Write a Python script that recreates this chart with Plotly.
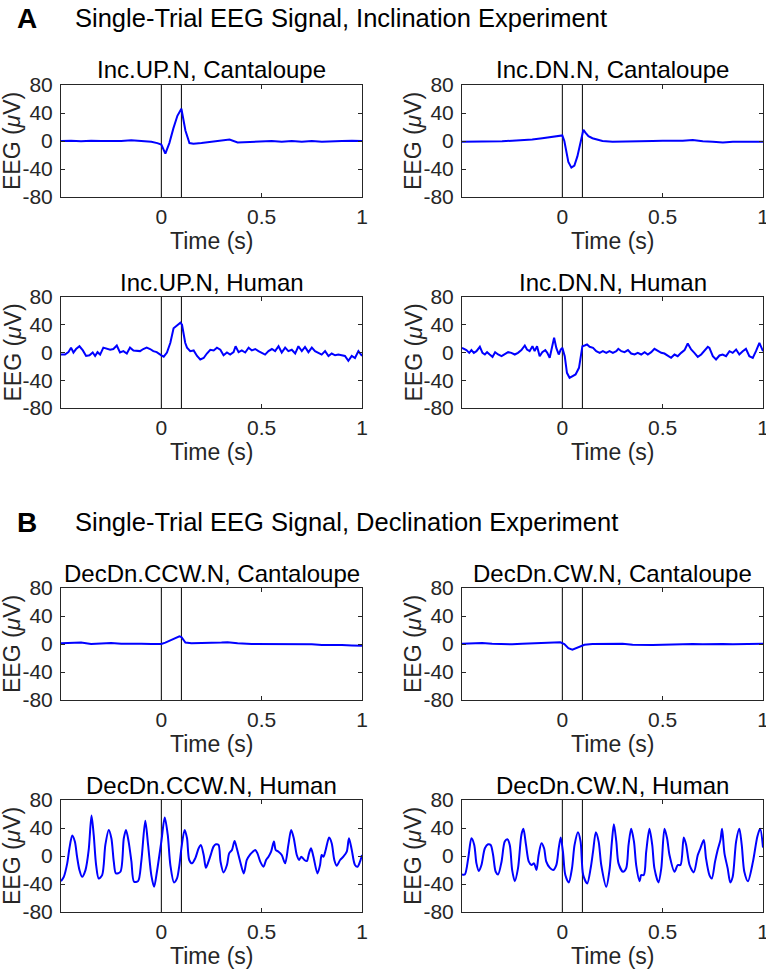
import plotly.graph_objects as go

# ---------------- data ----------------
X_TICK_VALS = [0, 0.5, 1]
X_TICK_TEXT = ["0", "0.5", "1"]
Y_TICK_VALS = [-80, -40, 0, 40, 80]
Y_TICK_TEXT = ["-80", "-40", "0", "40", "80"]
X_RANGE = [-0.5, 1.0]
EVENT_TIMES = [0.0, 0.1]

SECTION_LETTERS = ["A", "B"]
SECTION_TITLES = ["Single-Trial EEG Signal, Inclination Experiment",
                  "Single-Trial EEG Signal, Declination Experiment"]
PANEL_TITLES = ["Inc.UP.N, Cantaloupe", "Inc.DN.N, Cantaloupe",
                "Inc.UP.N, Human", "Inc.DN.N, Human",
                "DecDn.CCW.N, Cantaloupe", "DecDn.CW.N, Cantaloupe",
                "DecDn.CCW.N, Human", "DecDn.CW.N, Human"]
X_LABEL = "Time (s)"
Y_LABEL = "EEG (<i>μ</i>V)"

# Inc.UP.N, Cantaloupe
t_up_cant = [-0.5, -0.45, -0.4, -0.35, -0.3, -0.25, -0.2, -0.15, -0.1, -0.05, -0.02, 0.0,
             0.02, 0.04, 0.06, 0.08, 0.1, 0.12, 0.14, 0.16, 0.2, 0.25, 0.3, 0.34, 0.38,
             0.45, 0.5, 0.55, 0.6, 0.65, 0.7, 0.75, 0.8, 0.85, 0.9, 0.95, 1.0]
v_up_cant = [0, 0.5, -0.5, 0.5, 0, -0.5, 0, 1, 0, -1, -3, -5,
             -18, -3, 18, 36, 46, 15, -3, -4, -3, -1, 1, 2, -2,
             -1, -1, 0, -1, 0, -1, 0, -1, 0, 0, 0.5, 0]

# Inc.DN.N, Cantaloupe
t_dn_cant = [-0.5, -0.45, -0.4, -0.35, -0.3, -0.25, -0.2, -0.15, -0.1, -0.05, -0.01, 0.0,
             0.01, 0.02, 0.03, 0.045, 0.06, 0.075, 0.09, 0.1, 0.105, 0.115, 0.13, 0.15,
             0.2, 0.25, 0.3, 0.35, 0.4, 0.45, 0.5, 0.55, 0.6, 0.65, 0.7, 0.75, 0.8, 0.85,
             0.9, 0.95, 1.0]
v_dn_cant = [-1, -1, -0.5, 0, -0.5, 0.5, 1, 2, 4, 6, 8, 8,
             0, -15, -30, -38, -35, -22, -5, 8, 16, 12, 7, 4,
             0, -1, -1, -1, 0, 0, 0.5, 0, 0.5, 1.5, -0.5, -1, -2, -1,
             -0.5, -1, -1]

# Inc.UP.N, Human
t_up_hum = [-0.5, -0.48, -0.463, -0.45, -0.438, -0.425, -0.408, -0.391, -0.375, -0.358,
            -0.342, -0.33, -0.318, -0.305, -0.289, -0.272, -0.255, -0.239, -0.222, -0.206,
            -0.189, -0.172, -0.156, -0.139, -0.123, -0.106, -0.09, -0.073, -0.056, -0.04,
            -0.023, -0.008, 0.0, 0.012, 0.028, 0.045, 0.061, 0.078, 0.095, 0.103,
            0.119, 0.128, 0.144, 0.161, 0.178, 0.194, 0.211, 0.227, 0.244, 0.261,
            0.277, 0.294, 0.31, 0.327, 0.343, 0.36, 0.37, 0.385, 0.401, 0.418,
            0.435, 0.451, 0.468, 0.484, 0.501, 0.517, 0.534, 0.551, 0.567, 0.584,
            0.6, 0.617, 0.633, 0.65, 0.667, 0.683, 0.7, 0.716, 0.733, 0.75,
            0.766, 0.783, 0.799, 0.816, 0.833, 0.849, 0.866, 0.882, 0.899, 0.915,
            0.932, 0.949, 0.965, 0.982, 1.0]
v_up_hum = [-3, -3, 0.5, 7, 0, 5, 9, 3, -5, -4,
            0, -5, 0.5, -3, 7, 5, 4, 5, 10, 0,
            2, -1.5, 7, 3, 2, 2, 5, 7, 5, 2,
            0.5, -3, -4, -6, 0, 14, 35, 39, 43, 40,
            14, 7, 2, 3, -5, -10, -8, -1.5, 4, 3,
            7, 4, -4, 0, -3, 0.5, 9, 0.5, 3, 0,
            7, 3, 5, 2, 0, -3, 2, 5, 2, 9,
            0, 7, 2, 4, -1.5, 9, 2, 8, 0.5, 7,
            2, 0, -3, 2, -5, -1.5, -4, -3, -4, -5,
            -12, -5, -8, 2, -5]

# Inc.DN.N, Human
t_dn_hum = [-0.5, -0.478, -0.464, -0.453, -0.441, -0.428, -0.411, -0.398, -0.386, -0.375,
            -0.362, -0.348, -0.335, -0.32, -0.303, -0.287, -0.27, -0.254, -0.237, -0.221,
            -0.204, -0.187, -0.176, -0.163, -0.149, -0.138, -0.126, -0.113, -0.1, -0.085,
            -0.075, -0.063, -0.05, -0.041, -0.03, -0.018, -0.008, 0.0, 0.012, 0.023,
            0.036, 0.05, 0.066, 0.083, 0.1, 0.111, 0.123, 0.136, 0.153, 0.169,
            0.186, 0.202, 0.219, 0.235, 0.252, 0.269, 0.279, 0.294, 0.31, 0.327,
            0.343, 0.36, 0.376, 0.393, 0.41, 0.426, 0.443, 0.459, 0.476, 0.493,
            0.509, 0.526, 0.542, 0.559, 0.575, 0.592, 0.609, 0.625, 0.642, 0.658,
            0.675, 0.692, 0.708, 0.725, 0.733, 0.75, 0.766, 0.783, 0.799, 0.816,
            0.833, 0.849, 0.866, 0.882, 0.899, 0.915, 0.932, 0.949, 0.965, 0.982, 1.0]
v_dn_hum = [6.7, 3.4, -0.5, 3.4, -0.5, 1.9, 8.2, -0.5, -2.9, 0.5,
            -2.9, -6.3, 0.5, -2.9, -5.3, -2.9, 0.5, -0.5, -2.9, -0.5,
            3.4, 10.1, 4.3, 1.9, 9.1, 1.9, 9.1, -5.3, 0.5, 3.4,
            -0.5, -7.7, 11.5, 21.2, 6.7, -2.9, 4.3, 6.7, -5.3, -29.3,
            -36.5, -34.1, -31.7, -22.1, 9.1, 10.1, 11.5, 8.2, 6.7, 1.9,
            -0.5, 1.9, -0.5, 1.9, -0.5, 1.9, 5.3, 1.9, 0.5, 3.4,
            -1.5, -2.9, -0.5, -2.9, 0.5, -2.9, 0.5, 5.3, 1.9, -0.5,
            -1.5, -5.3, -7.7, -2.9, -5.3, -0.5, 3.4, 13.0, 4.3, -0.5,
            -6.3, -2.9, 1.9, 8.2, 6.7, -5.3, -10.1, -4.3, -2.9, -5.3,
            1.9, -0.5, 4.3, -2.9, 1.9, 5.3, -5.3, -7.7, 1.9, 13.9, 1.9]

# DecDn.CCW.N, Cantaloupe
t_ccw_cant = [-0.5, -0.45, -0.4, -0.35, -0.3, -0.25, -0.2, -0.15, -0.1, -0.05, -0.02, 0.0,
              0.02, 0.05, 0.08, 0.09, 0.1, 0.11, 0.12, 0.15, 0.2, 0.25, 0.3, 0.33, 0.38,
              0.45, 0.5, 0.55, 0.6, 0.65, 0.7, 0.75, 0.8, 0.85, 0.9, 0.95, 1.0]
v_ccw_cant = [1, 1, 2, 0, 0.5, 1.5, 0.5, 1, 0.5, 0, 0, 0,
              2, 6, 9, 11, 10, 5, 2, 1, 1, 1.5, 2, 2.5, 1,
              0, 0, -0.5, 0, -0.5, -1, -0.5, -1.5, -1, -1.5, -2, -2.5]

# DecDn.CW.N, Cantaloupe
t_cw_cant = [-0.5, -0.45, -0.4, -0.35, -0.3, -0.25, -0.2, -0.15, -0.1, -0.05, -0.01, 0.01,
             0.03, 0.05, 0.07, 0.09, 0.11, 0.15, 0.2, 0.25, 0.3, 0.35, 0.4, 0.45, 0.5,
             0.55, 0.6, 0.65, 0.7, 0.75, 0.8, 0.85, 0.9, 0.95, 1.0]
v_cw_cant = [0.5, 1, 1.5, 0.5, 0, -0.5, 0.5, 1, 1.5, 2, 2.5, 0,
             -6, -8, -6, -3, -1, 0, 0.5, 1, 0.5, -1, -1.5, -1.5, -1,
             -0.5, -0.5, 0, -0.5, 0, 0, -0.5, 0, 0, 0.5]

# DecDn.CCW.N, Human
t_ccw_hum = [-0.5, -0.486, -0.469, -0.458, -0.444, -0.431, -0.42, -0.408, -0.395, -0.378,
             -0.362, -0.348, -0.337, -0.325, -0.312, -0.295, -0.279, -0.262, -0.249, -0.237,
             -0.226, -0.204, -0.187, -0.176, -0.163, -0.149, -0.136, -0.116, -0.1, -0.08,
             -0.066, -0.05, -0.036, -0.022, 0.0, 0.017, 0.032, 0.045, 0.063, 0.078,
             0.09, 0.1, 0.116, 0.128, 0.139, 0.153, 0.169, 0.186, 0.197, 0.211,
             0.222, 0.235, 0.247, 0.26, 0.272, 0.285, 0.295, 0.31, 0.327, 0.338,
             0.352, 0.365, 0.376, 0.393, 0.411, 0.426, 0.443, 0.456, 0.468, 0.479,
             0.493, 0.509, 0.522, 0.534, 0.547, 0.561, 0.57, 0.584, 0.6, 0.617,
             0.633, 0.647, 0.66, 0.675, 0.687, 0.697, 0.713, 0.725, 0.736, 0.746,
             0.758, 0.778, 0.791, 0.799, 0.808, 0.819, 0.836, 0.849, 0.862, 0.874,
             0.891, 0.907, 0.924, 0.935, 0.949, 0.965, 0.978, 0.99, 1.0]
v_ccw_hum = [-35.9, -29.7, -10.5, 11.0, 29.2, 20.6, -1.0, -20.1, -29.7, -20.1,
             8.6, 57.9, 30.1, -12.9, -32.1, -27.3, 15.8, 37.3, 25.4, -8.1,
             -24.9, -22.5, 25.4, 37.3, 20.6, -8.1, -36.8, -35.9, -8.1, 50.2,
             15.8, -27.3, -44.0, -22.5, 20.6, 55.0, 30.1, -12.9, -37.8, -32.1,
             -12.9, 11.0, 37.3, 25.4, -5.7, -10.5, -3.3, 11.0, 15.8, 1.4,
             -16.7, -8.1, 2.4, 13.4, 16.7, 15.8, -8.1, -23.4, -12.9, 3.8,
             8.6, 21.5, 11.0, -8.1, -24.9, -5.7, 2.4, 6.2, 8.6, 3.8,
             -8.1, -15.3, -5.7, -1.0, 6.2, 20.6, 8.6, 6.2, 1.4, -10.5,
             15.8, 37.3, 25.4, 1.4, -5.7, -1.0, -5.7, -7.2, 3.8, 11.0,
             -1.0, -24.9, -12.9, 1.4, -1.0, 8.6, 26.3, 18.2, -5.7, -13.9,
             -5.7, -1.0, 6.2, 25.4, 8.6, -12.9, -15.3, -8.1, 1.4]

# DecDn.CW.N, Human
t_cw_hum = [-0.5, -0.486, -0.469, -0.453, -0.439, -0.428, -0.416, -0.403, -0.386, -0.37,
            -0.357, -0.345, -0.332, -0.32, -0.303, -0.287, -0.274, -0.262, -0.25, -0.237,
            -0.221, -0.204, -0.194, -0.181, -0.167, -0.154, -0.141, -0.129, -0.118, -0.104,
            -0.091, -0.08, -0.063, -0.046, -0.03, -0.018, -0.008, 0.003, 0.015, 0.032,
            0.048, 0.061, 0.078, 0.091, 0.104, 0.124, 0.141, 0.153, 0.167, 0.181,
            0.194, 0.219, 0.235, 0.247, 0.257, 0.269, 0.28, 0.302, 0.318, 0.33,
            0.343, 0.357, 0.368, 0.385, 0.393, 0.406, 0.418, 0.434, 0.448, 0.459,
            0.479, 0.493, 0.509, 0.522, 0.534, 0.559, 0.575, 0.589, 0.605, 0.617,
            0.634, 0.655, 0.675, 0.688, 0.705, 0.716, 0.733, 0.745, 0.761, 0.774,
            0.788, 0.796, 0.808, 0.824, 0.837, 0.849, 0.866, 0.882, 0.894, 0.907,
            0.925, 0.95, 0.972, 0.986, 1.0]
v_cw_hum = [-26.3, -26.3, -3.3, 25.4, 15.8, -10.5, -21.5, -12.9, 11.0, 16.7,
            15.8, 1.4, -22.5, -26.3, -8.1, 20.6, 23.9, 15.8, -20.1, -35.9,
            -17.7, 30.1, 38.8, 15.8, -8.1, -12.9, -10.5, -20.1, 1.4, 18.2,
            11.0, -8.1, -16.7, -20.1, -12.9, 11.0, 26.3, 6.2, -27.3, -37.8,
            -17.7, 15.8, 34.0, 20.6, -27.3, -39.2, -17.7, 6.2, 34.0, 20.6,
            -12.9, -44.0, -20.1, 20.6, 45.5, 20.6, -10.5, -22.5, -17.7, 15.8,
            38.8, 20.6, -12.9, -35.9, -27.3, -27.3, 6.2, 38.8, 15.8, -17.7,
            -37.8, -17.7, 38.8, 25.4, 1.4, -22.5, -12.9, -12.9, 26.3, 15.8,
            -12.9, -23.4, 1.4, 11.0, 23.0, -3.3, -27.3, -32.1, -8.1, 8.6,
            23.0, 38.8, 3.8, -17.7, -37.8, -29.7, 20.6, 38.8, 15.8, -22.5,
            -36.0, -8.0, 28.0, 39.0, 12.0]

PANEL_T = [t_up_cant, t_dn_cant, t_up_hum, t_dn_hum, t_ccw_cant, t_cw_cant, t_ccw_hum, t_cw_hum]
PANEL_V = [v_up_cant, v_dn_cant, v_up_hum, v_dn_hum, v_ccw_cant, v_cw_cant, v_ccw_hum, v_cw_hum]
PANEL_SMOOTH = [False, False, False, False, False, False, True, True]

# ---------------- layout / style ----------------
W, H = 766, 970
COL_PX = [(61, 362), (462, 763)]
ROW_PX = [(85, 197), (297, 408), (588, 700), (800, 912)]
SECTION_Y_PX = [18, 522]
FONT = "Arial, 'Liberation Sans', Helvetica, sans-serif"
AX_COLOR = "#262626"
TICK_SIZE = 21
LABEL_SIZE = 23
TITLE_SIZE = 24


def fx(px):
    return px / W


def fy(py):
    return 1 - py / H


fig = go.Figure()
layout_axes = {}
annotations = []

for i in range(8):
    r, c = divmod(i, 2)
    n = i + 1
    xa = "x" if n == 1 else f"x{n}"
    ya = "y" if n == 1 else f"y{n}"
    shape = "spline" if PANEL_SMOOTH[i] else "linear"
    for et in EVENT_TIMES:
        fig.add_trace(go.Scatter(x=[et, et], y=[Y_TICK_VALS[0], Y_TICK_VALS[-1]], mode="lines",
                                 line=dict(color="black", width=1), xaxis=xa, yaxis=ya,
                                 showlegend=False, hoverinfo="skip"))
    line = dict(color="#0000ff", width=2, shape=shape)
    if PANEL_SMOOTH[i]:
        line["smoothing"] = 0.8
    fig.add_trace(go.Scatter(x=PANEL_T[i], y=PANEL_V[i], mode="lines", line=line,
                             xaxis=xa, yaxis=ya, showlegend=False, hoverinfo="skip"))

    x0, x1 = COL_PX[c]
    y0, y1 = ROW_PX[r]
    common = dict(showline=True, mirror="ticks", linecolor=AX_COLOR, linewidth=1,
                  ticks="inside", ticklen=4, tickcolor=AX_COLOR, tickwidth=1,
                  showgrid=False, zeroline=False, automargin=False,
                  ticklabeloverflow="allow",
                  tickfont=dict(family=FONT, size=TICK_SIZE, color=AX_COLOR))
    layout_axes["xaxis" if n == 1 else f"xaxis{n}"] = dict(
        domain=[fx(x0), fx(x1)], range=X_RANGE, anchor=ya,
        tickvals=X_TICK_VALS, ticktext=X_TICK_TEXT, ticklabelstandoff=1, **common)
    layout_axes["yaxis" if n == 1 else f"yaxis{n}"] = dict(
        domain=[fy(y1), fy(y0)], range=[Y_TICK_VALS[0], Y_TICK_VALS[-1]], anchor=xa,
        tickvals=Y_TICK_VALS, ticktext=Y_TICK_TEXT, ticklabelstandoff=3, **common)

    cx = (x0 + x1) / 2
    annotations.append(dict(text=PANEL_TITLES[i], x=fx(cx), y=fy(y0 - 15), xref="paper", yref="paper",
                            xanchor="center", yanchor="middle", showarrow=False,
                            font=dict(family=FONT, size=TITLE_SIZE, color="black")))
    annotations.append(dict(text=X_LABEL, x=fx(cx), y=fy(y1 + 44), xref="paper", yref="paper",
                            xanchor="center", yanchor="middle", showarrow=False,
                            font=dict(family=FONT, size=LABEL_SIZE, color=AX_COLOR)))
    annotations.append(dict(text=Y_LABEL, x=fx(x0 - 49), y=fy((y0 + y1) / 2), xref="paper", yref="paper",
                            xanchor="center", yanchor="middle", showarrow=False, textangle=-90,
                            font=dict(family=FONT, size=LABEL_SIZE, color=AX_COLOR)))

for k in range(2):
    annotations.append(dict(text=f"<b>{SECTION_LETTERS[k]}</b>", x=fx(27), y=fy(SECTION_Y_PX[k]),
                            xref="paper", yref="paper", xanchor="center", yanchor="middle",
                            showarrow=False, font=dict(family=FONT, size=28, color="black")))
    annotations.append(dict(text=SECTION_TITLES[k], x=fx(73), y=fy(SECTION_Y_PX[k]),
                            xref="paper", yref="paper", xanchor="left", yanchor="middle",
                            showarrow=False, font=dict(family=FONT, size=25.5, color="black")))

fig.update_layout(width=W, height=H, margin=dict(l=0, r=0, t=0, b=0),
                  paper_bgcolor="white", plot_bgcolor="white",
                  annotations=annotations, **layout_axes)

fig.write_html("out.html", config={"displayModeBar": False},
               post_script="document.body.style.margin='0';document.body.style.overflow='hidden';")
